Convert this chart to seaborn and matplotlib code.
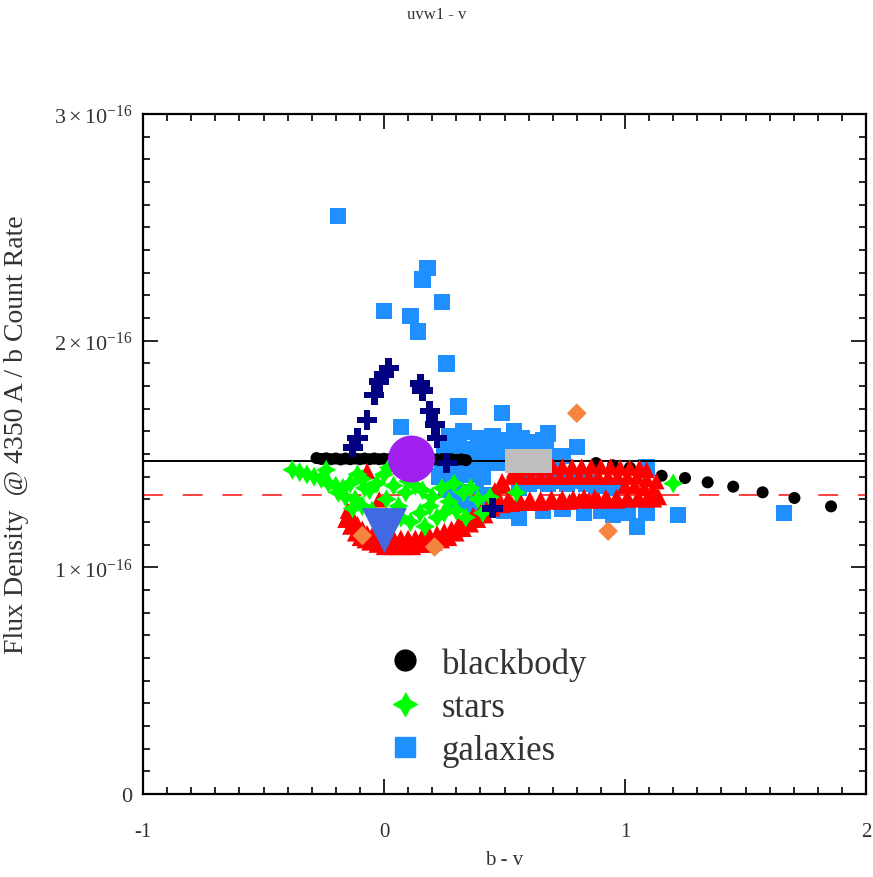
import numpy as np
import pandas as pd
import matplotlib
matplotlib.use("Agg")
import matplotlib.pyplot as plt
import seaborn as sns
from matplotlib.lines import Line2D
from matplotlib.ticker import MultipleLocator, FixedLocator, FuncFormatter

# ---------------- data (flux density in units of 1e-16) ----------------
bb_x = [-0.28, -0.26, -0.24, -0.22, -0.20, -0.18, -0.16, -0.14, -0.12, -0.10, -0.08,
        -0.06, -0.04, -0.02, 0.00, 0.02, 0.04, 0.06, 0.08, 0.10, 0.12, 0.14, 0.16,
        0.18, 0.20, 0.22, 0.24, 0.26, 0.28, 0.30, 0.32, 0.34,
        0.88, 0.95, 1.02, 1.152, 1.249, 1.343, 1.449, 1.571, 1.703, 1.855]
bb_y = [1.482, 1.478, 1.481, 1.477, 1.480, 1.476, 1.480, 1.477, 1.480, 1.477, 1.480,
        1.477, 1.480, 1.477, 1.479, 1.477, 1.479, 1.477, 1.479, 1.477, 1.478, 1.476,
        1.478, 1.476, 1.478, 1.476, 1.477, 1.475, 1.477, 1.474, 1.476, 1.473,
        1.460, 1.450, 1.440, 1.404, 1.394, 1.375, 1.356, 1.331, 1.306, 1.269]

star_x = [-0.38, -0.35, -0.32, -0.29, -0.26, -0.23, -0.20, -0.17, -0.14, -0.11, -0.09,
          -0.16, -0.12, -0.19, -0.06, -0.03, -0.09, -0.05, -0.13, 0.00, 0.02, 0.04,
          0.01, 0.06, 0.09, 0.13, 0.16, 0.07, 0.11, 0.15, 0.19, 0.22, 0.25, 0.20,
          0.27, 0.30, 0.33, 0.36, 0.39, 0.41, 0.34, 0.29, 0.44, 0.55, 1.20,
          -0.24, -0.08, 0.05, 0.10, 0.24, -0.01, 0.17]
star_y = [1.43, 1.42, 1.41, 1.40, 1.39, 1.37, 1.36, 1.35, 1.37, 1.41, 1.39,
          1.31, 1.30, 1.33, 1.34, 1.37, 1.27, 1.25, 1.26, 1.41, 1.44, 1.36,
          1.30, 1.27, 1.33, 1.36, 1.34, 1.22, 1.20, 1.24, 1.27, 1.22, 1.24, 1.31,
          1.29, 1.25, 1.33, 1.35, 1.30, 1.24, 1.22, 1.37, 1.31, 1.33, 1.37,
          1.43, 1.35, 1.21, 1.38, 1.35, 1.22, 1.18]

gal_x = [-0.19, 0.18, 0.16, 0.24, 0.00, 0.11, 0.14, 0.26, 0.31, 0.07, 0.49, 0.68,
         0.80, 0.54, 0.62, 0.74,
         0.27, 0.33, 0.39, 0.45, 0.51, 0.57, 0.66,
         0.25, 0.31, 0.37, 0.43, 0.49, 0.55, 0.61, 0.67, 0.73,
         0.24, 0.30, 0.36, 0.42, 0.48, 0.56, 0.64, 0.70,
         0.23, 0.29, 0.35, 0.41,
         0.26, 0.32, 0.38, 0.44,
         0.30, 0.36, 0.42,
         0.56, 0.60, 0.64, 0.68, 0.72, 0.76, 0.80, 0.84, 0.88, 0.92, 0.96,
         0.50, 0.56, 0.66, 0.74, 0.83, 0.90, 0.95, 1.01, 1.05, 1.09, 1.22, 1.66, 1.09]
gal_y = [2.55, 2.32, 2.27, 2.17, 2.13, 2.11, 2.04, 1.90, 1.71, 1.62, 1.68, 1.59,
         1.53, 1.60, 1.55, 1.49,
         1.58, 1.60, 1.57, 1.58, 1.56, 1.57, 1.56,
         1.52, 1.53, 1.52, 1.53, 1.52, 1.53, 1.51, 1.52, 1.49,
         1.46, 1.46, 1.46, 1.46, 1.46, 1.47, 1.48, 1.47,
         1.40, 1.40, 1.41, 1.40,
         1.34, 1.33, 1.33, 1.32,
         1.28, 1.27, 1.27,
         1.35, 1.37, 1.38, 1.37, 1.38, 1.37, 1.38, 1.37, 1.36, 1.36, 1.35,
         1.25, 1.22, 1.25, 1.26, 1.24, 1.25, 1.23, 1.24, 1.18, 1.24, 1.23, 1.24, 1.44]

tri_x = [-0.07, -0.02,
         # lower curved band
         -0.16, -0.14, -0.12, -0.10, -0.08, -0.06, -0.03, 0.00, 0.03, 0.06, 0.09, 0.12,
         0.15, 0.18, 0.21, 0.24, 0.27, 0.30, 0.33, 0.36, 0.39, 0.42, 0.45,
         -0.15, -0.13, -0.11, -0.09, -0.07, -0.05, -0.02, 0.01, 0.04, 0.07, 0.10, 0.13,
         0.16, 0.19, 0.22, 0.25, 0.28, 0.31, 0.34, 0.37, 0.40, 0.43,
         # rows of the red-side band
         0.54, 0.58, 0.62, 0.66, 0.70, 0.74, 0.78, 0.82, 0.86, 0.90, 0.94, 0.98, 1.02,
         1.06, 1.09,
         0.49, 0.53, 0.57, 0.61, 0.65, 0.69, 0.73, 0.77, 0.81, 0.85, 0.89, 0.93, 0.97,
         1.01, 1.05, 1.09, 1.13,
         0.46, 0.50, 1.00, 1.04, 1.08, 1.12,
         0.47, 0.515, 0.56, 0.605, 0.65, 0.695, 0.74, 0.785, 0.83, 0.875, 0.92, 0.965,
         1.01, 1.055, 1.10, 1.14,
         0.45, 0.49, 0.53, 0.57, 0.61, 0.65, 0.69, 0.73, 0.77, 0.81, 0.85, 0.89, 0.93,
         0.97, 1.01, 1.05, 1.09, 1.12]
tri_y = [1.425, 1.30,
         1.21, 1.18, 1.15, 1.13, 1.12, 1.11, 1.10, 1.09, 1.09, 1.09, 1.09, 1.09,
         1.10, 1.10, 1.11, 1.12, 1.13, 1.15, 1.17, 1.19, 1.21, 1.23, 1.26,
         1.25, 1.22, 1.19, 1.17, 1.15, 1.14, 1.13, 1.13, 1.13, 1.13, 1.13, 1.13,
         1.14, 1.14, 1.15, 1.16, 1.17, 1.19, 1.21, 1.23, 1.25, 1.27,
         1.43, 1.44, 1.44, 1.44, 1.445, 1.445, 1.445, 1.445, 1.445, 1.445, 1.445, 1.44,
         1.44, 1.44, 1.43,
         1.38, 1.40, 1.40, 1.40, 1.40, 1.40, 1.40, 1.40, 1.40, 1.40, 1.40, 1.40, 1.40,
         1.40, 1.40, 1.39, 1.38,
         1.34, 1.36, 1.36, 1.36, 1.35, 1.34,
         1.30, 1.30, 1.30, 1.30, 1.30, 1.305, 1.305, 1.305, 1.31, 1.31, 1.31, 1.31,
         1.31, 1.31, 1.31, 1.31,
         1.28, 1.275, 1.28, 1.285, 1.285, 1.285, 1.29, 1.29, 1.29, 1.295, 1.295, 1.295,
         1.295, 1.295, 1.30, 1.30, 1.30, 1.30]

plus_x = [-0.13, -0.11, -0.07, -0.04, -0.02, 0.00, 0.02, 0.15, 0.16, 0.19, 0.21, 0.22,
          0.26, 0.45]
plus_y = [1.53, 1.57, 1.65, 1.76, 1.82, 1.85, 1.88, 1.81, 1.78, 1.69, 1.63, 1.57,
          1.46, 1.26]

diam_x = [0.80, 0.93, -0.09, 0.21]
diam_y = [1.68, 1.16, 1.14, 1.09]

big_circle = (0.114, 1.478)
big_tri = (0.002, 1.162)
big_rect = (0.598, 1.469)

ref_solid = 1.469
ref_dashed = 1.319

x_ticks = [-1, 0, 1, 2]
y_ticks = [0, 1, 2, 3]

# ---------------- style ----------------
sns.set_style("ticks")
plt.rcParams["font.family"] = ["Liberation Serif", "DejaVu Serif"]
plt.rcParams["mathtext.fontset"] = "custom"
plt.rcParams["mathtext.rm"] = "Liberation Serif"
plt.rcParams["mathtext.it"] = "Liberation Serif:italic"

TXT = "#333333"

fig = plt.figure(figsize=(8.73, 8.78), dpi=100)
ax = fig.add_axes([143 / 873, 1 - 795 / 878, 723 / 873, 680 / 878])

star_marker = [(0, 1), (0.36, 0.36), (1, 0), (0.36, -0.36), (0, -1),
               (-0.36, -0.36), (-1, 0), (-0.36, 0.36)]
rect_marker = [(-1, -0.49), (1, -0.49), (1, 0.49), (-1, 0.49)]

common = dict(ax=ax, legend=False, linewidth=0, edgecolor="none")

sns.scatterplot(x=gal_x, y=gal_y, marker="s", s=140, color="#1E90FF", zorder=2, **common)
sns.scatterplot(x=bb_x, y=bb_y, marker="o", s=75, color="black", zorder=3, **common)
sns.scatterplot(x=tri_x, y=tri_y, marker="^", s=140, color="#FF0000", zorder=4, **common)
sns.scatterplot(x=star_x, y=star_y, marker=star_marker, s=210, color="#00FF00", zorder=5, **common)
sns.scatterplot(x=plus_x, y=plus_y, marker="P", s=210, color="#000080", zorder=6, **common)
sns.scatterplot(x=diam_x, y=diam_y, marker="D", s=100, color="#F5843F", zorder=6, **common)
sns.scatterplot(x=[big_circle[0]], y=[big_circle[1]], marker="o", s=1140, color="#A020F0", zorder=7, **common)
sns.scatterplot(x=[big_tri[0]], y=[big_tri[1]], marker="v", s=1050, color="#4169E1", zorder=7, **common)
sns.scatterplot(x=[big_rect[0]], y=[big_rect[1]], marker=rect_marker, s=1150, color="#BEBEBE", zorder=7, **common)

ax.axhline(ref_solid, color="black", lw=1.4, zorder=2.5)
ax.axhline(ref_dashed, color="#FF3030", lw=1.3, dashes=(11, 11), zorder=2.5)

ax.set_xlim(-1, 2)
ax.set_ylim(0, 3)

ax.xaxis.set_major_locator(FixedLocator(x_ticks))
ax.xaxis.set_minor_locator(MultipleLocator(0.1))
ax.yaxis.set_major_locator(FixedLocator(y_ticks))
ax.yaxis.set_minor_locator(MultipleLocator(0.1))


def ylab(v, pos):
    if v == 0:
        return "0"
    return r"$%d\times10^{\mathregular{-16}}$" % int(round(v))


ax.yaxis.set_major_formatter(FuncFormatter(ylab))
ax.xaxis.set_major_formatter(FuncFormatter(lambda v, p: "%d" % int(round(v))))

ax.tick_params(which="both", direction="in", top=True, right=True, colors="black",
               labelcolor=TXT, width=1.2)
ax.tick_params(axis="y", labelsize=16, pad=8)
ax.tick_params(axis="x", labelsize=15, pad=20)
ax.tick_params(which="major", length=11)
ax.tick_params(which="minor", length=5)
for sp in ax.spines.values():
    sp.set_linewidth(1.6)
    sp.set_color("black")

ax.set_xlabel("b - v", fontsize=15, color=TXT)
ax.xaxis.set_label_coords(0.5, -56 / 680)
ax.set_ylabel("Flux Density  @ 4350 A / b Count Rate", fontsize=20, color=TXT)
ax.yaxis.set_label_coords(-114 / 723, (795 - 435) / 680)
fig.text(0.5, 1 - 15 / 878, "uvw1 - v", ha="center", va="center", fontsize=12, color=TXT)

handles = [
    Line2D([], [], marker="o", color="black", linestyle="none", markersize=15),
    Line2D([], [], marker=star_marker, color="#00FF00", linestyle="none", markersize=17),
    Line2D([], [], marker="s", color="#1E90FF", linestyle="none", markersize=15),
]
ax.legend(handles, ["blackbody", "stars", "galaxies"], loc="upper left",
          bbox_to_anchor=(0.339, 0.216), frameon=False, fontsize=25,
          labelcolor=TXT, handlelength=1.0, handletextpad=0.55, labelspacing=0.29,
          borderaxespad=0, borderpad=0)

fig.savefig("out.png", dpi=100)
